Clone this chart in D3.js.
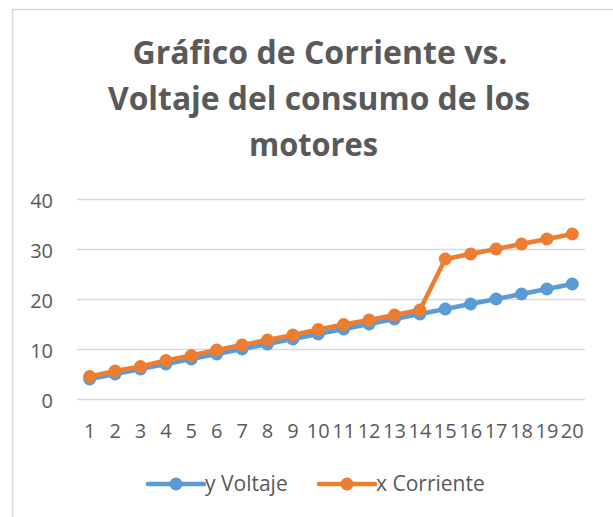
<!DOCTYPE html>
<html>
<head>
<meta charset="utf-8">
<script src="https://cdn.jsdelivr.net/npm/d3@7/dist/d3.min.js"></script>
<style>
  html, body { margin: 0; padding: 0; background: #fff; }
  svg { display: block; }
</style>
</head>
<body>
<svg id="chart" width="613" height="517"></svg>
<script>
const categories = [1,2,3,4,5,6,7,8,9,10,11,12,13,14,15,16,17,18,19,20];
const voltaje = [4,5,6,7,8,9,10,11,12,13,14,15,16,17,18,19,20,21,22,23];
const corriente = [4.5,5.6,6.5,7.7,8.7,9.8,10.8,11.8,12.8,13.9,14.9,15.8,16.8,17.8,28,29,30,31,32,33];
const yTicks = [0,10,20,30,40];
const titleLines = ["Gráfico de Corriente vs.", "Voltaje del consumo de los", "motores"];
const seriesNames = ["y Voltaje", "x Corriente"];

const colors = ["#5B9BD5", "#ED7D31"];
const textColor = "#595959";
const gridColor = "#D9D9D9";
const font = "'Open Sans', 'Liberation Sans', sans-serif";

const svg = d3.select("#chart");

// chart area border
svg.append("rect")
  .attr("x", 12.5).attr("y", 9.5)
  .attr("width", 700).attr("height", 600)
  .attr("fill", "#fff")
  .attr("stroke", gridColor).attr("stroke-width", 1.5);

// title
const titleSpecs = [
  {cx: 320, y: 64, w: 375},
  {cx: 319, y: 110, w: 422},
  {cx: 313.5, y: 156, w: 129}
];
titleLines.forEach((t, i) => {
  svg.append("text")
    .attr("x", titleSpecs[i].cx)
    .attr("y", titleSpecs[i].y)
    .attr("text-anchor", "middle")
    .attr("font-family", font)
    .attr("font-weight", "bold")
    .attr("font-size", 32)
    .attr("fill", textColor)
    .attr("textLength", titleSpecs[i].w)
    .attr("lengthAdjust", "spacingAndGlyphs")
    .text(t);
});

const plotLeft = 77, plotRight = 585, plotTop = 199, plotBottom = 399;
const x = d3.scaleBand().domain(categories).range([plotLeft, plotRight]);
const y = d3.scaleLinear().domain([0, 40]).range([plotBottom, plotTop]);

// y axis with gridlines
const yAxis = svg.append("g")
  .attr("transform", `translate(${plotLeft},0)`)
  .call(d3.axisLeft(y).tickValues(yTicks).tickSize(-(plotRight - plotLeft)).tickPadding(24));
yAxis.select(".domain").remove();
yAxis.selectAll(".tick line").attr("stroke", gridColor).attr("stroke-width", 1.5);
yAxis.selectAll(".tick text")
  .attr("font-family", font).attr("font-size", 20)
  .attr("fill", textColor).attr("dy", "0.42em");

// x axis
const xAxis = svg.append("g")
  .attr("transform", `translate(0,${plotBottom})`)
  .call(d3.axisBottom(x).tickSize(0).tickPadding(24.5));
xAxis.select(".domain").remove();
xAxis.selectAll(".tick text")
  .attr("font-family", font).attr("font-size", 20)
  .attr("fill", textColor);

// series
const series = [voltaje, corriente];
const line = d3.line()
  .x((d, i) => x(categories[i]) + x.bandwidth() / 2)
  .y(d => y(d));

series.forEach((vals, s) => {
  const g = svg.append("g");
  g.append("path")
    .attr("d", line(vals))
    .attr("fill", "none")
    .attr("stroke", colors[s])
    .attr("stroke-width", 4.5)
    .attr("stroke-linejoin", "round")
    .attr("stroke-linecap", "round");
  g.selectAll("circle").data(vals).join("circle")
    .attr("cx", (d, i) => x(categories[i]) + x.bandwidth() / 2)
    .attr("cy", d => y(d))
    .attr("r", 6.5)
    .attr("fill", colors[s]);
});

// legend
const legendY = 484;
const legendX = [148, 319];
seriesNames.forEach((name, s) => {
  const g = svg.append("g").attr("transform", `translate(${legendX[s]},${legendY})`);
  g.append("line")
    .attr("x1", 0).attr("x2", 56).attr("y1", 0).attr("y2", 0)
    .attr("stroke", colors[s]).attr("stroke-width", 4.5)
    .attr("stroke-linecap", "round");
  g.append("circle").attr("cx", 28).attr("cy", 0).attr("r", 6.5).attr("fill", colors[s]);
  g.append("text")
    .attr("x", 57).attr("y", 7)
    .attr("font-family", font).attr("font-size", 21)
    .attr("fill", textColor)
    .text(name);
});
</script>
</body>
</html>
